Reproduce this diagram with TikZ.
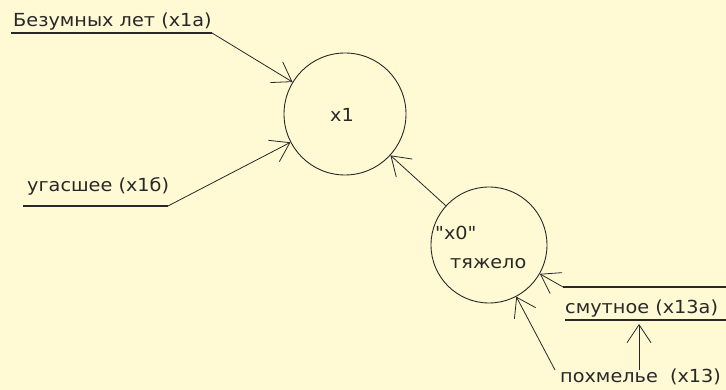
\documentclass[tikz,border=0pt]{standalone}
\usepackage{fontspec}
\setmainfont{DejaVu Sans}[Ligatures=TeXOff,FakeStretch=1.07]
\usetikzlibrary{arrows.meta}
\definecolor{bg}{RGB}{255,250,212}
\definecolor{ink}{RGB}{40,40,40}
\begin{document}
\begin{tikzpicture}[x=1pt,y=-1pt,
  lbl/.style={anchor=base west, inner sep=0pt, text=ink, font=\fontsize{18}{21}\selectfont},
  ring/.style={circle, draw=ink, line width=0.9pt, inner sep=0pt},
  conn/.style={draw=ink, line width=0.8pt, -{Straight Barb[length=18pt,width=24pt,line width=0.8pt]}},
  uline/.style={draw=ink, line width=1.6pt}]
\fill[bg] (0,0) rectangle (726,390);
\useasboundingbox (0,0) rectangle (726,390);

% circles
\node[ring, minimum size=122pt] (x1) at (345,114) {};
\node[lbl] (tx1) at (330,122) {x1};
\node[ring, minimum size=116pt] (x0) at (489,245) {};
\node[lbl] (tx0a) at (435,240) {"x0"};
\node[lbl] (tx0b) at (450,269) {тяжело};

% labels
\node[lbl] (la) at (13,27) {Безумных лет (x1a)};
\node[lbl] (lb) at (27,192) {угасшее (x1б)};
\node[lbl] (lc) at (565,313) {смутное (x13a)};
\node[lbl] (ld) at (560,382) {похмелье\ \ (x13)};

% underlines
\coordinate (ua0) at (11,33);  \coordinate (ua1) at (212,33);
\coordinate (ub0) at (23,206); \coordinate (ub1) at (168,206);
\coordinate (uc0) at (563,287); \coordinate (uc1) at (726,287);
\coordinate (ud0) at (565,320); \coordinate (ud1) at (726,320);
\coordinate (pd) at (639,324);
\coordinate (ld0) at (555,370);
\draw[uline] (ua0) -- (ua1);
\draw[uline] (ub0) -- (ub1);
\draw[uline] (uc0) -- (uc1);
\draw[uline] (ud0) -- (ud1);

% connectors
\draw[conn] (ua1) -- (x1);
\draw[conn] (ub1) -- (x1);
\draw[conn] (x0) -- (x1);
\draw[conn] (uc0) -- (x0);
\draw[conn] (ld0) -- (x0);
\draw[conn] (ld0 -| pd) -- (pd);
\end{tikzpicture}
\end{document}
